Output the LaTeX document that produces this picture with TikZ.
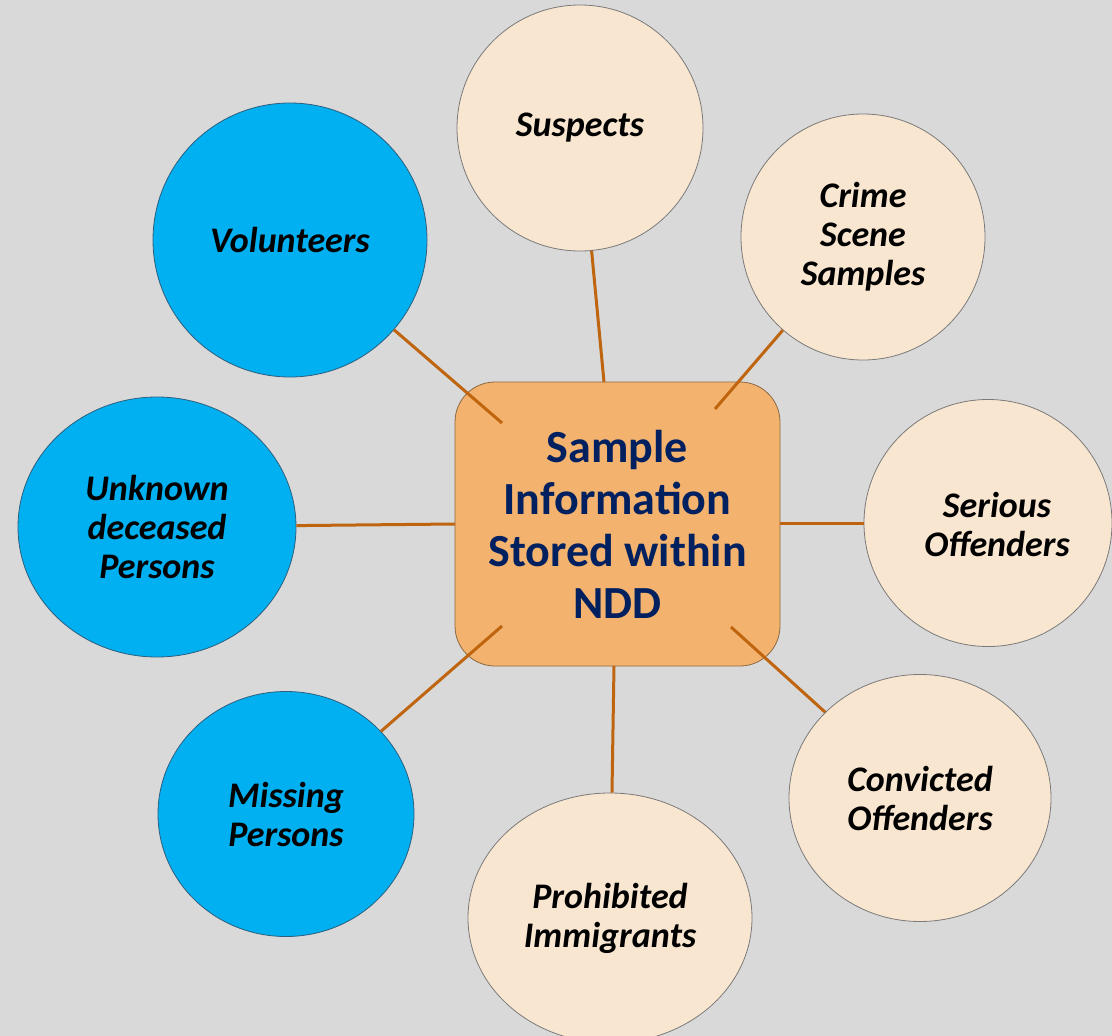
\documentclass[tikz,border=0pt]{standalone}
\usepackage{fontspec}
\setmainfont{Carlito}
\usetikzlibrary{shapes.geometric}
\definecolor{bg}{HTML}{D9D9D9}
\definecolor{bluefill}{HTML}{00B0F0}
\definecolor{blueline}{HTML}{2F5F7F}
\definecolor{beige}{HTML}{F9E6D0}
\definecolor{beigeline}{HTML}{7A7A7A}
\definecolor{boxfill}{HTML}{F3B26D}
\definecolor{boxline}{HTML}{8C6A45}
\definecolor{navy}{HTML}{002060}
\definecolor{conn}{HTML}{BF650F}
\tikzset{
  blob/.style={ellipse, inner sep=0pt, align=center, line width=0.8pt,
    font=\fontsize{36}{39}\selectfont\bfseries\itshape, text=black},
  bluebl/.style={blob, fill=bluefill, draw=blueline},
  beigebl/.style={blob, fill=beige, draw=beigeline},
  blobtext/.style={inner sep=0pt, align=center,
    font=\fontsize{36}{39}\selectfont\bfseries\itshape, text=black},
  hub/.style={rectangle, rounded corners=40pt, minimum width=325pt, minimum height=284pt,
    inner sep=0pt, fill=boxfill, draw=boxline, line width=0.8pt, align=center, text=navy,
    font=\fontsize{46}{52}\selectfont\bfseries},
  link/.style={draw=conn, line width=3pt}
}
\begin{document}
\begin{tikzpicture}[x=1pt,y=-1pt]
\useasboundingbox (0,0) rectangle (1112,1036);
\fill[bg] (0,0) rectangle (1112,1036);
\clip (0,0) rectangle (1112,1036);
% circles
\node[beigebl, minimum width=246pt, minimum height=246pt] (sus) at (580,128) {Suspects};
\node[bluebl, minimum width=274pt, minimum height=274pt] (vol) at (290,240) {Volunteers};
\node[beigebl, minimum width=244pt, minimum height=246pt] (cri) at (863,237) {Crime\\Scene\\Samples};
\node[beigebl, minimum width=248pt, minimum height=247pt] (ser) at (988,523) {};
\node[blobtext] (serT) at (997,524) {Serious\\Offenders};
\node[bluebl, minimum width=278pt, minimum height=260pt] (unk) at (157,527) {Unknown\\deceased\\Persons};
\node[bluebl, minimum width=256pt, minimum height=245pt] (mis) at (286,814) {Missing\\Persons};
\node[beigebl, minimum width=284pt, minimum height=250pt] (pro) at (610,918) {Prohibited\\Immigrants};
\node[beigebl, minimum width=262pt, minimum height=247pt] (con) at (920,798) {Convicted\\Offenders};
% hub
\node[hub] (hub) at (617.5,524) {Sample\\Information\\Stored within\\NDD};
% connector ends inside / on the hub
\coordinate (hVol) at (502,423);
\coordinate (hSus) at (604,382);
\coordinate (hCri) at (715,409);
\coordinate (hSer) at (780,523);
\coordinate (hCon) at (731,627);
\coordinate (hPro) at (614,666);
\coordinate (hMis) at (502,626);
\coordinate (hUnk) at (455,524);
\draw[link] (vol) -- (hVol);
\draw[link] (sus) -- (hSus);
\draw[link] (cri) -- (hCri);
\draw[link] (ser) -- (hSer);
\draw[link] (con) -- (hCon);
\draw[link] (pro) -- (hPro);
\draw[link] (mis) -- (hMis);
\draw[link] (unk) -- (hUnk);
\end{tikzpicture}
\end{document}
